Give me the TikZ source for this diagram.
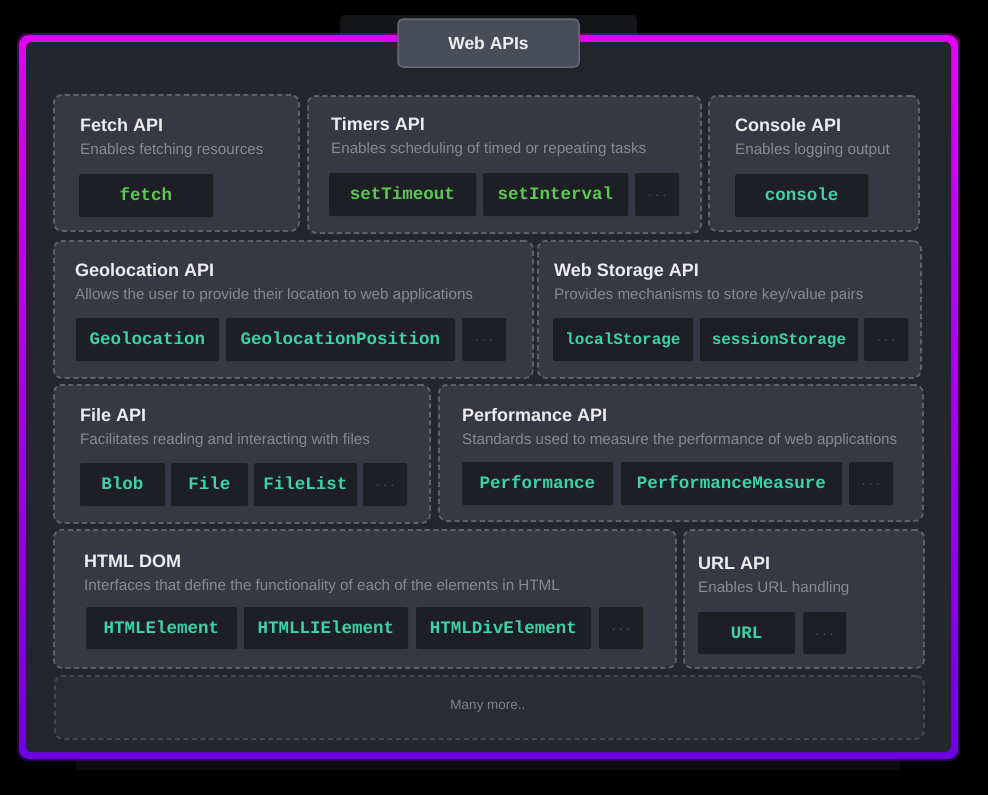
\documentclass[tikz,border=0pt]{standalone}
\usepackage{fontspec}
\setmainfont{Liberation Sans}
\setmonofont{Liberation Mono}
\usetikzlibrary{calc}
\definecolor{bgC}{HTML}{000000}
\definecolor{frameC}{HTML}{24262D}
\definecolor{panelC}{HTML}{363944}
\definecolor{dashC}{HTML}{5E626D}
\definecolor{chipC}{HTML}{1D1F25}
\definecolor{greenT}{HTML}{5BCB4F}
\definecolor{tealT}{HTML}{3ED3A6}
\definecolor{descC}{HTML}{868A94}
\definecolor{titleC}{HTML}{EDEDF0}
\definecolor{dotsC}{HTML}{5A5E68}
\definecolor{topB}{HTML}{E000F4}
\definecolor{botB}{HTML}{6E00E2}
\definecolor{tabC}{HTML}{141519}
\definecolor{hdrC}{HTML}{494D5A}
\definecolor{hdrB}{HTML}{646978}
\definecolor{moreC}{HTML}{2A2C34}
\definecolor{moreD}{HTML}{454852}
\definecolor{moreT}{HTML}{7E818A}
\definecolor{shadowC}{HTML}{0E0E11}
\tikzset{
  panelbox/.style={draw=dashC, fill=panelC, line width=1.8pt, dash pattern=on 5pt off 3.5pt, rounded corners=8pt, inner sep=0pt},
  ptitle/.style={font=\fontsize{18}{20}\selectfont\bfseries, text=titleC, inner sep=0pt},
  pdesc/.style={font=\fontsize{15.2}{17}\selectfont, text=descC, inner sep=0pt},
  chipbox/.style={fill=chipC, rounded corners=1.5pt, inner sep=0pt, text height=10pt, text depth=0pt, font=\fontsize{17.5}{20}\selectfont\ttfamily\bfseries},
  gchip/.style={chipbox, text=greenT},
  tchip/.style={chipbox, text=tealT},
  schip/.style={chipbox, text=tealT, font=\fontsize{16}{18}\selectfont\ttfamily\bfseries},
  dchip/.style={chipbox, text=dotsC, font=\fontsize{12}{14}\selectfont, text height=4pt},
}
% \Panel{name}{x1}{y1}{x2}{y2}{text x}{title baseline}{title}{desc}
\newcommand\Panel[9]{%
  \pgfmathsetmacro\pw{#4-#2}\pgfmathsetmacro\ph{#5-#3}%
  \node[panelbox, minimum width=\pw pt, minimum height=\ph pt, anchor=north west] (#1) at (#2,#3) {};
  \node[ptitle, anchor=base west] (#1-title) at (#6,#7) {#8};
  \node[pdesc, anchor=base west] (#1-desc) at (#6,#7+23) {#9};
}
% \Chip{name}{x1}{y1}{x2}{y2}{style}{text}
\newcommand\Chip[7]{%
  \pgfmathsetmacro\cw{#4-#2}\pgfmathsetmacro\ch{#5-#3}%
  \node[#6, minimum width=\cw pt, minimum height=\ch pt] (#1) at ({(#2+#4)/2},{(#3+#5)/2}) {#7};
}
\newcommand\Dots{.\hspace{4pt}.\hspace{4pt}.}
\begin{document}
\begin{tikzpicture}[x=1pt,y=-1pt]
\fill[bgC] (0,0) rectangle (988,795);
\useasboundingbox (0,0) rectangle (988,795);
% tab behind header and bottom shadow
\fill[tabC, rounded corners=4pt] (340,15) rectangle (637,45);
\fill[shadowC, rounded corners=6pt] (75,745) rectangle (901,770);
% glowing gradient frame
\shade[top color=topB, bottom color=botB, rounded corners=10pt, opacity=0.3] (17,33) rectangle (960,761);
\shade[top color=topB, bottom color=botB, rounded corners=10pt] (19,35) rectangle (958,759);
\fill[frameC, rounded corners=6pt] (26,42) rectangle (951,752);
% header
\node[fill=hdrC, draw=hdrB, line width=1.5pt, rounded corners=5pt, minimum width=181pt, minimum height=48pt, font=\fontsize{17.5}{20}\selectfont\bfseries, text=titleC] (hdr) at (488.5,43) {Web APIs};
% row 1
\Panel{fetchP}{53}{94}{298}{230}{80}{131}{Fetch API}{Enables fetching resources}
\Panel{timersP}{307}{95}{700}{232}{331}{130}{Timers API}{Enables scheduling of timed or repeating tasks}
\Panel{consoleP}{708}{95}{918}{230}{735}{131}{Console API}{Enables logging output}
% row 2
\Panel{geoP}{53}{240}{532}{377}{75}{276}{Geolocation API}{Allows the user to provide their location to web applications}
\Panel{storeP}{537}{240}{920}{377}{554}{276}{Web Storage API}{Provides mechanisms to store key/value pairs}
% row 3
\Panel{fileP}{53}{384}{429}{522}{80}{421}{File API}{Facilitates reading and interacting with files}
\Panel{perfP}{438}{384}{922}{520}{462}{421}{Performance API}{Standards used to measure the performance of web applications}
% row 4
\Panel{domP}{53}{529}{675}{667}{84}{567}{HTML DOM}{Interfaces that define the functionality of each of the elements in HTML}
\Panel{urlP}{683}{529}{923}{667}{698}{569}{URL API}{Enables URL handling}
% many more
\node[panelbox, draw=moreD, fill=moreC, minimum width=869pt, minimum height=63pt, anchor=north west] (moreP) at (54,675) {};
\node[font=\fontsize{13.5}{15}\selectfont, text=moreT] (moreT) at (488,706) {Many more..};
% chips
\Chip{cFetch}{79}{174}{213}{217}{gchip}{fetch}
\Chip{cTimeout}{329}{173}{476}{216}{gchip}{setTimeout}
\Chip{cInterval}{483}{173}{628}{216}{gchip}{setInterval}
\Chip{cTimersDots}{635}{173}{679}{216}{dchip}{\Dots}
\Chip{cConsole}{735}{174}{868}{217}{tchip}{console}
\Chip{cGeo}{76}{318}{219}{361}{tchip}{Geolocation}
\Chip{cGeoPos}{226}{318}{455}{361}{tchip}{GeolocationPosition}
\Chip{cGeoDots}{462}{318}{506}{361}{dchip}{\Dots}
\Chip{cLocal}{553}{318}{693}{361}{schip}{localStorage}
\Chip{cSession}{700}{318}{858}{361}{schip}{sessionStorage}
\Chip{cStoreDots}{864}{318}{908}{361}{dchip}{\Dots}
\Chip{cBlob}{80}{463}{165}{506}{tchip}{Blob}
\Chip{cFile}{171}{463}{248}{506}{tchip}{File}
\Chip{cFileList}{254}{463}{357}{506}{tchip}{FileList}
\Chip{cFileDots}{363}{463}{407}{506}{dchip}{\Dots}
\Chip{cPerf}{462}{462}{613}{505}{tchip}{Performance}
\Chip{cPerfM}{621}{462}{842}{505}{tchip}{PerformanceMeasure}
\Chip{cPerfDots}{849}{462}{893}{505}{dchip}{\Dots}
\Chip{cHtmlEl}{86}{607}{237}{649}{tchip}{HTMLElement}
\Chip{cHtmlLI}{244}{607}{408}{649}{tchip}{HTMLLIElement}
\Chip{cHtmlDiv}{416}{607}{591}{649}{tchip}{HTMLDivElement}
\Chip{cDomDots}{599}{607}{643}{649}{dchip}{\Dots}
\Chip{cURL}{698}{612}{795}{654}{tchip}{URL}
\Chip{cURLDots}{803}{612}{846}{654}{dchip}{\Dots}
\end{tikzpicture}
\end{document}
